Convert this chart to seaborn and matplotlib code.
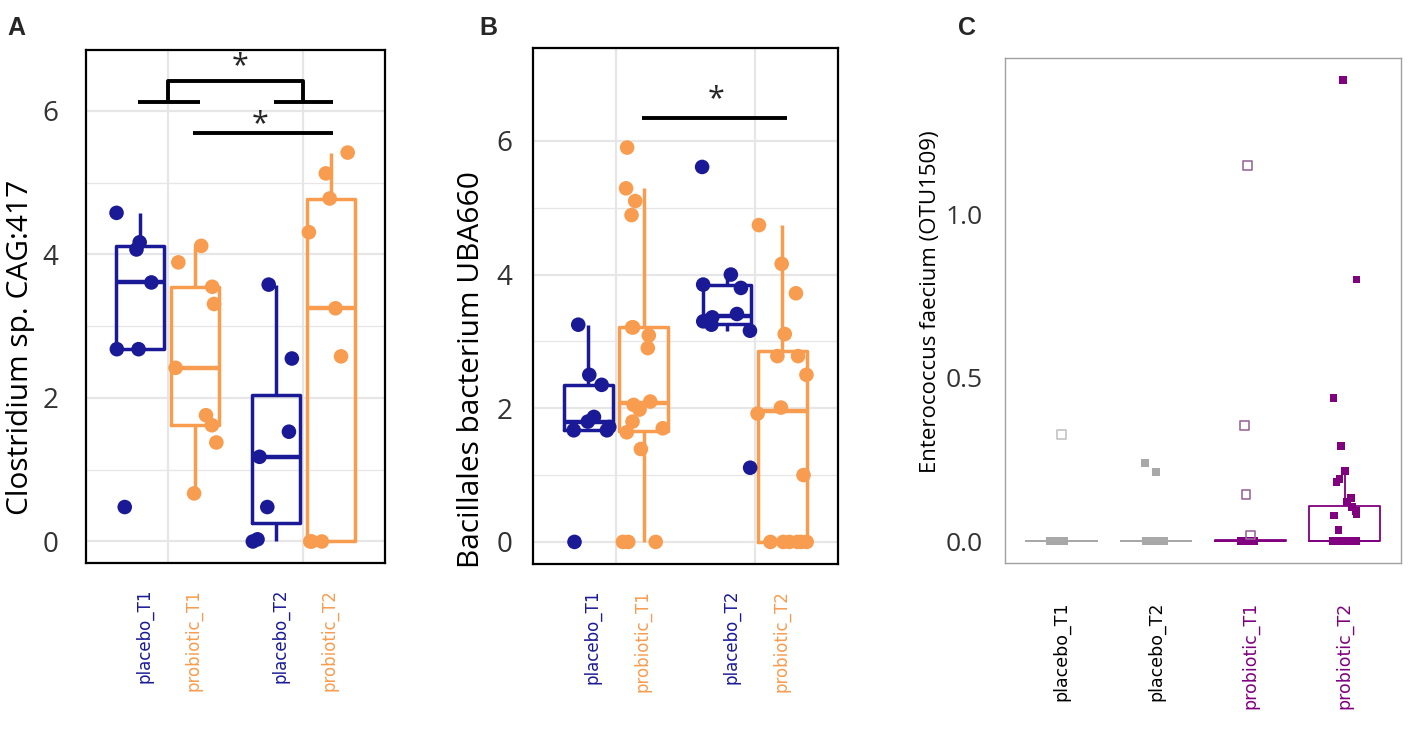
import numpy as np
import pandas as pd
import matplotlib
matplotlib.use("Agg")
import matplotlib.pyplot as plt
import seaborn as sns

BLUE = "#1a1a96"
ORANGE = "#f89c4f"
GREY = "#a8a8a8"
PURPLE = "#800080"

arms = ["placebo", "probiotic"]
times = ["T1", "T2"]

# Panel A - Clostridium sp. CAG:417
clos_placebo_T1 = [0.48, 2.68, 2.68, 3.61, 4.07, 4.17, 4.58]
clos_probiotic_T1 = [0.67, 1.38, 1.62, 1.76, 2.42, 3.31, 3.55, 3.89, 4.12]
clos_placebo_T2 = [0.0, 0.03, 0.48, 1.18, 1.53, 2.55, 3.58]
clos_probiotic_T2 = [0.0, 0.0, 0.0, 2.58, 3.25, 4.31, 4.78, 5.13, 5.42]

# Panel B - Bacillales bacterium UBA660
bac_placebo_T1 = [0.0, 1.67, 1.67, 1.72, 1.80, 1.87, 2.35, 2.50, 3.25]
bac_probiotic_T1 = [0.0, 0.0, 0.0, 1.39, 1.64, 1.70, 1.80, 1.98, 2.05, 2.10,
                    2.90, 3.09, 3.21, 3.21, 4.89, 5.10, 5.29, 5.90]
bac_placebo_T2 = [1.11, 3.16, 3.25, 3.30, 3.36, 3.41, 3.80, 3.85, 4.00, 5.61]
bac_probiotic_T2 = [0.0, 0.0, 0.0, 0.0, 0.0, 0.0, 1.00, 1.92, 2.01, 2.50,
                    2.78, 2.78, 3.11, 3.72, 4.16, 4.74]

# Panel C - Enterococcus faecium (OTU1509)
groups = ["placebo_T1", "placebo_T2", "probiotic_T1", "probiotic_T2"]
ent_placebo_T1_filled = [0.0, 0.0, 0.0, 0.0, 0.0, 0.0, 0.0, 0.0, 0.0, 0.0]
ent_placebo_T1_open = [0.326]
ent_placebo_T2_filled = [0.0, 0.0, 0.0, 0.0, 0.0, 0.0, 0.0, 0.0, 0.0, 0.0,
                         0.211, 0.238]
ent_placebo_T2_open = []
ent_probiotic_T1_filled = [0.0, 0.0, 0.0, 0.0, 0.0, 0.0, 0.0, 0.0, 0.0, 0.0,
                           0.0, 0.0]
ent_probiotic_T1_open = [0.018, 0.142, 0.353, 1.148]
ent_probiotic_T2_filled = [0.0, 0.0, 0.0, 0.0, 0.0, 0.0, 0.0, 0.0, 0.0, 0.0,
                           0.0, 0.0, 0.0, 0.0, 0.0, 0.0, 0.0, 0.0, 0.0, 0.0,
                           0.0, 0.0, 0.034, 0.078, 0.081, 0.092, 0.105, 0.12,
                           0.131, 0.18, 0.189, 0.215, 0.29, 0.438, 0.80, 1.41]
ent_probiotic_T2_open = []

arm_colors = {"placebo": BLUE, "probiotic": ORANGE}
group_colors = {"placebo_T1": GREY, "placebo_T2": GREY,
                "probiotic_T1": PURPLE, "probiotic_T2": PURPLE}
open_colors = {"placebo_T1": "#c4c4c4", "placebo_T2": "#c4c4c4",
               "probiotic_T1": "#9a6a9a", "probiotic_T2": "#9a6a9a"}


def long_df(series):
    rows = []
    for (arm, t), vals in series.items():
        rows += [{"arm": arm, "time": t, "value": v} for v in vals]
    return pd.DataFrame(rows)


clos_df = long_df({("placebo", "T1"): clos_placebo_T1, ("probiotic", "T1"): clos_probiotic_T1,
                   ("placebo", "T2"): clos_placebo_T2, ("probiotic", "T2"): clos_probiotic_T2})
bac_df = long_df({("placebo", "T1"): bac_placebo_T1, ("probiotic", "T1"): bac_probiotic_T1,
                  ("placebo", "T2"): bac_placebo_T2, ("probiotic", "T2"): bac_probiotic_T2})

c_rows = []
for g, filled, opened in [("placebo_T1", ent_placebo_T1_filled, ent_placebo_T1_open),
                          ("placebo_T2", ent_placebo_T2_filled, ent_placebo_T2_open),
                          ("probiotic_T1", ent_probiotic_T1_filled, ent_probiotic_T1_open),
                          ("probiotic_T2", ent_probiotic_T2_filled, ent_probiotic_T2_open)]:
    c_rows += [{"group": g, "value": v, "kind": "filled"} for v in filled]
    c_rows += [{"group": g, "value": v, "kind": "open"} for v in opened]
ent_df = pd.DataFrame(c_rows)

sns.set_style("white")
plt.rcParams["font.family"] = ["Open Sans", "DejaVu Sans"]

fig = plt.figure(figsize=(14.17, 7.46), dpi=100)
axA = fig.add_axes([0.0607, 0.2453, 0.2110, 0.6877])
axB = fig.add_axes([0.3761, 0.2440, 0.2152, 0.6917])
axC = fig.add_axes([0.7093, 0.2453, 0.2795, 0.6769])


def draw_dodged(ax, df, ylab, ylim, seed, pad):
    sns.boxplot(data=df, x="time", y="value", hue="arm", order=times, hue_order=arms,
                palette=arm_colors, fill=False, width=0.8, gap=0.12, linewidth=2.5,
                showcaps=False, showfliers=False, medianprops={"linewidth": 3.2},
                legend=False, ax=ax)
    np.random.seed(seed)
    sns.stripplot(data=df, x="time", y="value", hue="arm", order=times, hue_order=arms,
                  palette=arm_colors, dodge=True, jitter=0.36, size=10.5, linewidth=0,
                  legend=False, zorder=3, ax=ax)
    ax.set_xlim(-0.6, 1.6)
    ax.set_ylim(*ylim)
    ax.set_yticks([0, 2, 4, 6])
    ax.set_yticks([1, 3, 5], minor=True)
    ax.set_xticks([0, 1])
    ax.set_xticklabels(["", ""])
    ax.grid(which="major", color="#e6e6e6", lw=1.6)
    ax.grid(which="minor", axis="y", color="#e6e6e6", lw=0.9)
    ax.set_axisbelow(True)
    for s in ax.spines.values():
        s.set_color("black")
        s.set_linewidth(1.6)
    ax.tick_params(which="major", length=7, width=2.4, color="black",
                   labelsize=20, labelcolor="#333333", pad=pad)
    ax.tick_params(which="minor", length=0)
    ax.set_xlabel("")
    ax.set_ylabel(ylab, fontsize=21.5, color="black")
    for i, t in enumerate(times):
        for off, arm in zip([-0.17, 0.19], arms):
            ax.text(i + off, -0.05, f"{arm}_{t}", transform=ax.get_xaxis_transform(),
                    rotation=90, ha="center", va="top", color=arm_colors[arm],
                    fontsize=12, family="DejaVu Sans")


draw_dodged(axA, clos_df, "Clostridium sp. CAG:417", (-0.30, 6.85), 11, 13)
axA.yaxis.set_label_coords(-0.17, 0.421)
draw_dodged(axB, bac_df, "Bacillales bacterium UBA660", (-0.33, 7.39), 5, 8)
axB.yaxis.set_label_coords(-0.155, 0.376)

# significance brackets
bk = dict(color="black", lw=2.8, solid_capstyle="butt")
axA.plot([0.0, 0.0, 1.0, 1.0], [6.13, 6.42, 6.42, 6.13], **bk)
axA.plot([-0.22, 0.24], [6.13, 6.13], **bk)
axA.plot([0.78, 1.22], [6.13, 6.13], **bk)
axA.plot([0.19, 1.22], [5.69, 5.69], **bk)
axA.text(0.53, 6.62, "*", ha="center", va="center", fontsize=22)
axA.text(0.68, 5.82, "*", ha="center", va="center", fontsize=22)
axB.plot([0.19, 1.23], [6.34, 6.34], **bk)
axB.text(0.72, 6.62, "*", ha="center", va="center", fontsize=22)

# panel C
sns.boxplot(data=ent_df, x="group", y="value", hue="group", order=groups,
            palette=group_colors, fill=False, width=0.75, linewidth=1.3,
            showcaps=False, showfliers=False, legend=False, ax=axC)
np.random.seed(2)
sns.stripplot(data=ent_df[ent_df["kind"] == "filled"], x="group", y="value", hue="group",
              order=groups, palette=group_colors, jitter=0.13, size=5.5, marker="s",
              linewidth=0, legend=False, zorder=3, ax=axC)
n_before = len(axC.collections)
sns.stripplot(data=ent_df[ent_df["kind"] == "open"], x="group", y="value", hue="group",
              order=groups, palette=open_colors, jitter=0.13, size=6, marker="s",
              linewidth=0, legend=False, zorder=3, ax=axC)
for coll in axC.collections[n_before:]:
    fc = coll.get_facecolors()
    coll.set_edgecolors(fc)
    coll.set_facecolors("none")
    coll.set_linewidth(1.2)

axC.set_xlim(-0.6, 3.6)
axC.set_ylim(-0.067, 1.477)
axC.set_yticks([0.0, 0.5, 1.0])
axC.set_yticklabels(["0.0", "0.5", "1.0"])
axC.set_xticks(range(4))
axC.set_xticklabels(groups, rotation=90, fontsize=12.5, family="DejaVu Sans")
for lab, g in zip(axC.get_xticklabels(), groups):
    lab.set_color("black" if g.startswith("placebo") else PURPLE)
for s in axC.spines.values():
    s.set_color("#a0a0a0")
    s.set_linewidth(1.0)
axC.tick_params(axis="y", length=4, width=1, color="#808080", labelsize=19,
                labelcolor="#333333", pad=12)
axC.tick_params(axis="x", length=4, width=1, color="#808080", pad=24)
axC.set_xlabel("")
axC.set_ylabel("Enterococcus faecium (OTU1509)", fontsize=16, color="black")
axC.yaxis.set_label_coords(-0.161, 0.517)

for x, letter in [(0.005, "A"), (0.338, "B"), (0.676, "C")]:
    fig.text(x, 0.953, letter, fontsize=18, fontweight="bold", family="Liberation Sans")

fig.savefig("out.png", dpi=100)
